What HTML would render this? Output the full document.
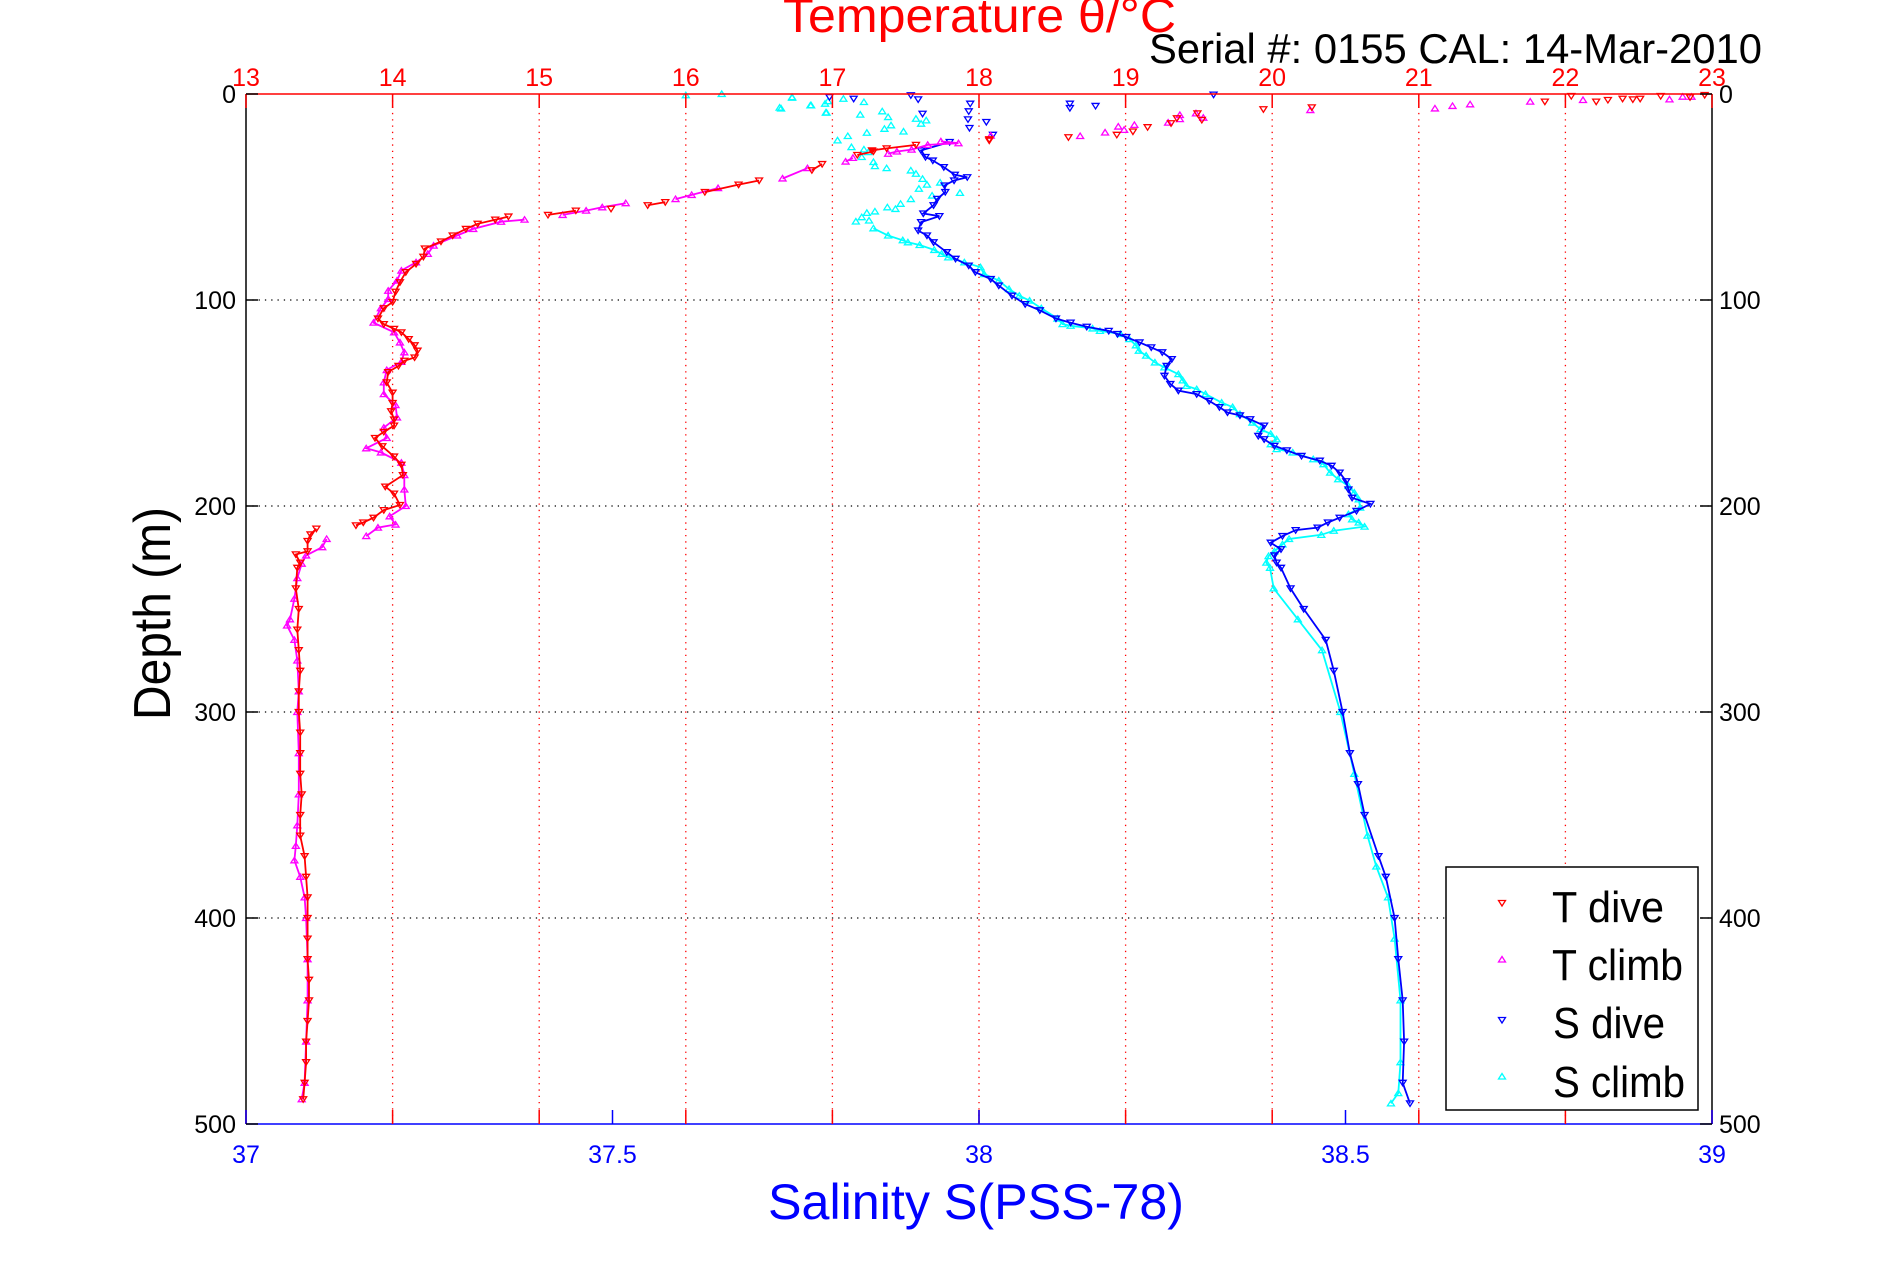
<!DOCTYPE html>
<html><head><meta charset="utf-8"><style>
html,body{margin:0;padding:0;background:#fff;}
svg{display:block;font-family:"Liberation Sans",sans-serif;}
</style></head><body>
<svg id="chart" width="1891" height="1262" viewBox="0 0 1891 1262" xmlns="http://www.w3.org/2000/svg">
<rect x="0" y="0" width="1891" height="1262" fill="#fff"/>
<g id="grid"></g>
<g id="series"></g>
<g id="axes"></g>
<text x="783" y="32" font-size="48" fill="#ff0000" textLength="393" lengthAdjust="spacingAndGlyphs">Temperature θ/°C</text>
<text x="1149" y="63" font-size="42" fill="#000" textLength="613" lengthAdjust="spacingAndGlyphs">Serial #: 0155  CAL: 14-Mar-2010</text>
<text x="768" y="1219" font-size="50" fill="#0000ff" textLength="416" lengthAdjust="spacingAndGlyphs">Salinity S(PSS-78)</text>
<text transform="translate(170,720) rotate(-90)" x="0" y="0" font-size="52" fill="#000" textLength="213" lengthAdjust="spacingAndGlyphs">Depth (m)</text>
<g>
<rect x="1446" y="867" width="252" height="243" fill="#fff" stroke="#000" stroke-width="1.5"/>
<path d="M1498.5 900.5h7L1502 906Z" fill="none" stroke="#ff0000" stroke-width="1.3"/>
<text x="1552" y="922" font-size="44" fill="#000" textLength="112" lengthAdjust="spacingAndGlyphs">T dive</text>
<path d="M1498.5 962h7L1502 956.5Z" fill="none" stroke="#ff00ff" stroke-width="1.3"/>
<text x="1552" y="980" font-size="44" fill="#000" textLength="131" lengthAdjust="spacingAndGlyphs">T climb</text>
<path d="M1498.5 1017.5h7L1502 1023Z" fill="none" stroke="#0000ff" stroke-width="1.3"/>
<text x="1553" y="1038" font-size="44" fill="#000" textLength="112" lengthAdjust="spacingAndGlyphs">S dive</text>
<path d="M1498.5 1079h7L1502 1073.5Z" fill="none" stroke="#00ffff" stroke-width="1.3"/>
<text x="1553" y="1097" font-size="44" fill="#000" textLength="132" lengthAdjust="spacingAndGlyphs">S climb</text>
</g>
</svg>
<script>
// ---- data ----
const tempTicks = [13,14,15,16,17,18,19,20,21,22,23];
const salTicks = [37,37.5,38,38.5,39];
const salTickLabels = ["37","37.5","38","38.5","39"];
const depthTicks = [0,100,200,300,400,500];

const tDiveDepth = [0.5,1.0,1.0,1.6,2.3,2.3,2.6,2.9,3.7,3.7,6.5,7.4,9.4,11.8,12.6,14.2,16.1,18.2,19.8,21.0,22.0,22.6,24.7,26.4,27.4,27.9,29.6,34,37,42,44,47.6,52.5,54,55.7,56.6,58.7,59.5,61,63,65.5,68.7,71.6,75,79,82.5,86.5,91.4,96,101,104,109,111.7,114,115.7,119,122,124.6,127.9,129.5,132,135,140,145,150,154,158,161,164,167,171,176,180,185,190.6,194,199.5,202,205.7,208,209.4,211,213.8,217,222,223.5,227.5,230,240,250,260,270,280,290,300,310,320,330,340,350,360,370,380,390,400,410,420,430,440,450,460,470,480,488];
const tDiveTemp = [22.95,22.65,22.04,22.85,22.39,22.51,22.46,22.29,21.86,22.21,20.27,19.94,19.49,19.35,19.52,19.31,19.15,19.05,18.94,18.61,18.07,18.07,17.57,17.37,17.27,17.28,17.17,16.93,16.86,16.5,16.36,16.13,15.86,15.74,15.49,15.25,15.06,14.79,14.7,14.58,14.5,14.41,14.33,14.22,14.21,14.16,14.09,14.05,14.02,14.0,13.94,13.9,13.94,14.01,14.06,14.11,14.15,14.17,14.15,14.08,14.04,13.97,13.96,14.0,14.0,13.99,14.01,14.01,13.94,13.88,13.93,14.01,14.06,14.07,13.95,14.01,14.05,13.94,13.87,13.8,13.75,13.48,13.44,13.42,13.42,13.34,13.37,13.35,13.34,13.36,13.35,13.36,13.37,13.36,13.36,13.37,13.37,13.37,13.38,13.37,13.37,13.40,13.41,13.42,13.42,13.42,13.42,13.43,13.43,13.42,13.41,13.41,13.40,13.39];

const tClimbDepth = [1.3,1.3,2.6,2.9,3.7,5.0,5.8,7.0,7.8,9.4,10.2,11.5,12.2,13.9,15.0,15.8,17.4,18.7,20.2,20.4,23.0,23.9,24.7,27,27.9,29,31,32.8,36,41,45.7,49,51,53,55,56.6,58.7,61,62,65.5,68.7,73.6,77.6,81.7,85.7,90.6,95.5,99.5,104,111,115.7,120.6,125.4,130,134,140,145.7,151,157,162,167,172,174,179,185,192,200,205,209,210.5,214.6,216,220,224,228,235,245,255,258,265,275,290,300,320,340,355,365,372,380,390,400,420,440,460,480,488];
const tClimbTemp = [22.8,22.86,22.71,22.12,21.76,21.35,21.23,21.11,20.26,19.48,19.37,19.53,19.37,19.29,19.06,18.95,18.99,18.86,18.08,18.69,17.74,17.86,17.65,17.54,17.44,17.38,17.14,17.09,16.83,16.66,16.22,16.04,15.93,15.59,15.43,15.32,15.16,14.9,14.74,14.55,14.44,14.28,14.24,14.16,14.06,14.03,13.97,13.97,13.92,13.87,14.01,14.05,14.08,14.06,13.96,13.94,13.94,14.02,14.03,13.94,13.96,13.82,13.92,14.06,14.08,14.08,14.09,13.98,14.02,13.9,13.82,13.55,13.52,13.41,13.38,13.35,13.33,13.30,13.28,13.33,13.35,13.36,13.35,13.36,13.36,13.35,13.34,13.33,13.37,13.40,13.41,13.42,13.42,13.41,13.40,13.38];

const sDiveDepth = [0.3,0.6,1.5,2.3,2.6,4.7,4.7,5.8,6.8,8.4,9.6,12.3,13.6,16.5,19.8,23.3,27.4,30.6,32.3,35.5,39.2,40.4,42,44.4,47.6,50.9,54,58,59.3,62.2,66.3,68.7,72,76.8,80,83.3,86.5,89.8,93,97.9,102,105,109,111,113,115,116.5,118,120.6,123,125.4,128.7,132,136.8,140.8,144,145.7,149,152,154.6,156,157.9,161,166,167.6,170.8,173,175.7,178,180.5,183.8,188,192,196,199,202.4,205.7,208,210.5,211.7,214.6,217.8,221,224,227.5,230,240,250,265,280,300,320,335,350,370,380,400,420,440,460,480,490];
const sDiveSal = [38.32,37.907,37.796,37.829,37.917,37.988,38.124,38.159,38.124,37.986,37.923,37.985,38.01,37.987,38.019,37.96,37.921,37.927,37.937,37.952,37.967,37.984,37.966,37.953,37.954,37.943,37.938,37.924,37.946,37.921,37.917,37.929,37.938,37.956,37.968,37.986,37.995,38.016,38.027,38.045,38.063,38.083,38.105,38.125,38.147,38.177,38.189,38.201,38.219,38.235,38.25,38.263,38.256,38.253,38.261,38.272,38.297,38.314,38.328,38.339,38.356,38.37,38.389,38.381,38.389,38.403,38.42,38.44,38.465,38.481,38.492,38.501,38.504,38.509,38.534,38.515,38.492,38.476,38.462,38.432,38.414,38.398,38.412,38.403,38.406,38.412,38.425,38.443,38.473,38.484,38.496,38.506,38.517,38.526,38.545,38.555,38.567,38.572,38.578,38.58,38.578,38.588];

const sClimbDepth = [0,0.6,1.5,1.8,2.3,3.5,3.9,4.7,5.5,5.5,6.6,7,8.4,9,9,10,11.2,12,12.8,14.4,15.2,16.9,18.2,18.8,20.4,22.5,25.8,26.9,28.2,30.6,33,35,36,37.1,38.7,41.2,43,44,46,48,49.3,51,53.3,55,55.8,57,57.7,59.8,61.4,61.9,65.2,68.7,71,72,73.3,75.7,77.6,79.3,81.7,84.1,87.4,90.6,94.7,97.9,100.3,104,109,111.7,112.5,113.8,115,116.5,119,122,124.6,127,130.3,132.7,136,139,141.7,143.3,145.7,149.8,152,155.4,159.5,162.7,165,167.6,170,172.4,174,177.3,179.7,183.8,187,190.3,193.5,196.8,200.8,204,206.5,208,210,212,214,216,218.6,222,224.3,227.5,230,240,255,270,300,330,360,375,390,410,440,470,485,490];
const sClimbSal = [37.649,37.6,37.745,37.745,37.815,37.794,37.843,37.79,37.77,37.771,37.728,37.73,37.868,37.791,37.792,37.838,37.876,37.914,37.928,37.921,37.88,37.871,37.897,37.847,37.821,37.807,37.826,37.843,37.849,37.84,37.856,37.858,37.874,37.907,37.914,37.923,37.947,37.929,37.918,37.974,37.936,37.907,37.893,37.875,37.886,37.858,37.847,37.84,37.85,37.832,37.856,37.876,37.896,37.903,37.919,37.939,37.949,37.958,37.98,38.002,38.007,38.027,38.041,38.055,38.069,38.085,38.107,38.114,38.125,38.155,38.165,38.193,38.205,38.214,38.218,38.228,38.24,38.253,38.272,38.278,38.283,38.297,38.309,38.331,38.346,38.356,38.373,38.384,38.398,38.406,38.398,38.406,38.428,38.456,38.47,38.479,38.49,38.504,38.512,38.518,38.52,38.504,38.509,38.518,38.526,38.484,38.467,38.423,38.414,38.403,38.395,38.392,38.397,38.402,38.435,38.468,38.493,38.512,38.53,38.542,38.558,38.567,38.575,38.575,38.572,38.562];

// ---- scales ----
const L=246, R=1712, T=94, B=1124;
function xT(t){return L+(t-13)/10*(R-L);}
function xS(s){return L+(s-37)/2*(R-L);}
function yD(d){return T+d/500*(B-T);}

const NS="http://www.w3.org/2000/svg";
function mk(tag,attrs,parent){const e=document.createElementNS(NS,tag);for(const k in attrs)e.setAttribute(k,attrs[k]);parent.appendChild(e);return e;}
const grid=document.getElementById('grid'), axes=document.getElementById('axes'), ser=document.getElementById('series');

tempTicks.forEach(t=>{
  if(t===13||t===23) return;
  const g=mk('line',{x1:xT(t),x2:xT(t),y1:T,y2:B,stroke:'#ff0000','stroke-width':1.3,'stroke-dasharray':'1.3 5'},grid);
  
  
});
depthTicks.forEach(d=>{
  if(d===0||d===500) return;
  const g=mk('line',{x1:L,x2:R,y1:yD(d),y2:yD(d),stroke:'#000','stroke-width':1.3,'stroke-dasharray':'1.3 5'},grid);
  
  
});

function drawSeries(depths,vals,xf,color,dive,minConnect,name){
  const g=mk('g',{},ser);
  
  
  let pts=[];
  const segs=[];
  for(let i=0;i<depths.length;i++){
    if(depths[i]<minConnect) continue;
    const p=[xf(vals[i]),yD(depths[i])];
    if(pts.length && Math.abs(p[0]-pts[pts.length-1][0])>35){segs.push(pts);pts=[];}
    pts.push(p);
  }
  segs.push(pts);
  segs.forEach(s=>{
    if(s.length<2) return;
    const pl=mk('polyline',{points:s.map(p=>p[0].toFixed(1)+','+p[1].toFixed(1)).join(' '),fill:'none',stroke:color,'stroke-width':1.8},g);
    
    
  });
  for(let i=0;i<depths.length;i++){
    const x=xf(vals[i]), y=yD(depths[i]);
    const d=dive?`M${x-3.5} ${y-2.5}h7L${x} ${y+3}Z`:`M${x-3.5} ${y+2.5}h7L${x} ${y-3}Z`;
    const m=mk('path',{d:d,fill:'none',stroke:color,'stroke-width':1.3},g);
    
    
  }
}
drawSeries(sClimbDepth,sClimbSal,xS,'#00ffff',false,63,'s-climb');
drawSeries(sDiveDepth,sDiveSal,xS,'#0000ff',true,23,'s-dive');
drawSeries(tClimbDepth,tClimbTemp,xT,'#ff00ff',false,23,'t-climb');
drawSeries(tDiveDepth,tDiveTemp,xT,'#ff0000',true,24,'t-dive');

[['left-axis',L,T,L,B,'#000'],['right-axis',R,T,R,B,'#000'],['top-axis',L,T,R,T,'#ff0000'],['bottom-axis',L,B,R,B,'#0000ff']].forEach(a=>{
  const l=mk('line',{x1:a[1],y1:a[2],x2:a[3],y2:a[4],stroke:a[5],'stroke-width':1.5},axes);
  
  
});
tempTicks.forEach(t=>{
  const x=xT(t);
  const a=mk('line',{x1:x,x2:x,y1:T,y2:T+14,stroke:'#ff0000','stroke-width':1.5},axes);
  
  
  const b=mk('line',{x1:x,x2:x,y1:B,y2:B-14,stroke:'#ff0000','stroke-width':1.5},axes);
  
  
  const tx=mk('text',{x:x,y:86,'font-size':25,fill:'#ff0000','text-anchor':'middle'},axes);
  tx.textContent=String(t);
  
  
});
salTicks.forEach((s,i)=>{
  const x=xS(s);
  const a=mk('line',{x1:x,x2:x,y1:B,y2:B-14,stroke:'#0000ff','stroke-width':1.5},axes);
  
  
  const tx=mk('text',{x:x,y:1163,'font-size':25,fill:'#0000ff','text-anchor':'middle'},axes);
  tx.textContent=salTickLabels[i];
  
  
});
depthTicks.forEach(d=>{
  const y=yD(d);
  const a=mk('line',{x1:L,x2:L+12,y1:y,y2:y,stroke:'#000','stroke-width':1.5},axes);
  
  
  const b=mk('line',{x1:R,x2:R-12,y1:y,y2:y,stroke:'#000','stroke-width':1.5},axes);
  
  
  const t1=mk('text',{x:236,y:y+9,'font-size':25,fill:'#000','text-anchor':'end'},axes);
  t1.textContent=String(d);
  
  
  const t2=mk('text',{x:1719,y:y+9,'font-size':25,fill:'#000'},axes);
  t2.textContent=String(d);
  
  
});
</script>
</body></html>
